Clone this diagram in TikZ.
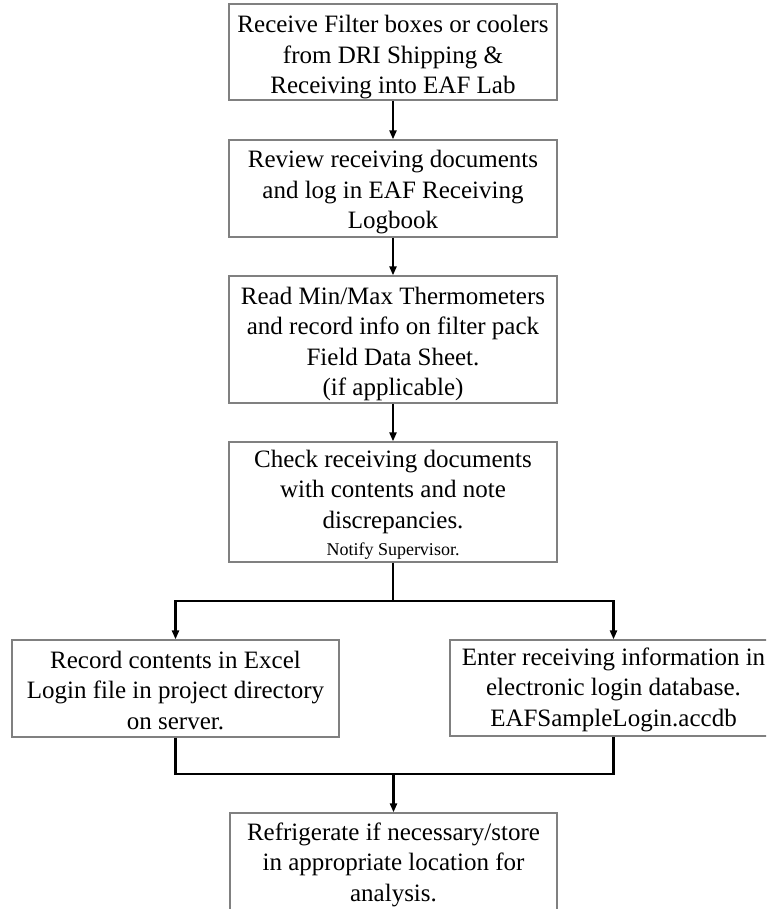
\documentclass[tikz,border=0pt]{standalone}
\usepackage{fontspec}
\setmainfont{Liberation Serif}
\usetikzlibrary{arrows.meta}
\newcommand{\dnrule}[1]{\rule{0pt}{#1pt}}
\tikzset{
  box/.style={draw=black!50, line width=1.3pt, rectangle, inner sep=0pt, align=center,
    minimum width=328pt, font=\fontsize{25}{30.5}\selectfont},
  arr/.style={draw=black, line width=2.3pt, -{Triangle[length=9pt,width=7pt]}},
  conn/.style={draw=black, line width=2.3pt}
}
\begin{document}
\begin{tikzpicture}[x=1pt,y=-1pt]
\useasboundingbox (0,0) rectangle (766,909);
\clip (0,0) rectangle (766,909);
\fill[white] (0,0) rectangle (766,909);
\node[box, minimum height=96pt] (b1) at (393,52) {\dnrule{28}Receive Filter boxes or coolers\\from DRI Shipping \&\\Receiving into EAF Lab};
\node[box, minimum height=97pt] (b2) at (393,188.5) {\dnrule{25}Review receiving documents\\and log in EAF Receiving\\Logbook};
\node[box, minimum height=127pt] (b3) at (393,339.5) {\dnrule{26}Read Min/Max Thermometers\\and record info on filter pack\\Field Data Sheet.\\(if applicable)};
\node[box, minimum height=120pt] (b4) at (393,502) {\dnrule{23}Check receiving documents\\with contents and note\\discrepancies.\\[-3pt]{\fontsize{18}{22}\selectfont Notify Supervisor.}};
\node[box, minimum width=327pt, minimum height=97pt] (l) at (175.5,688.5) {\dnrule{21}Record contents in Excel\\Login file in project directory\\on server.};
\node[box, minimum width=327pt, minimum height=96pt] (r) at (613.5,688) {\dnrule{21}Enter receiving information in\\electronic login database.\\EAFSampleLogin.accdb};
\node[box, minimum width=327pt, minimum height=100pt] (b7) at (393.5,863) {\dnrule{21}Refrigerate if necessary/store\\in appropriate location for\\analysis.};
\coordinate (s) at (393,601);
\coordinate (m) at (393.5,774);
\draw[arr] (b1) -- (b2);
\draw[arr] (b2) -- (b3);
\draw[arr] (b3) -- (b4);
\draw[conn] (b4.south) -- (s);
\draw[arr] (s) -| (l.north);
\draw[arr] (s) -| (r.north);
\draw[conn] (l.south) |- (m) -| (r.south);
\draw[arr] (m) -- (b7.north);
\end{tikzpicture}
\end{document}
